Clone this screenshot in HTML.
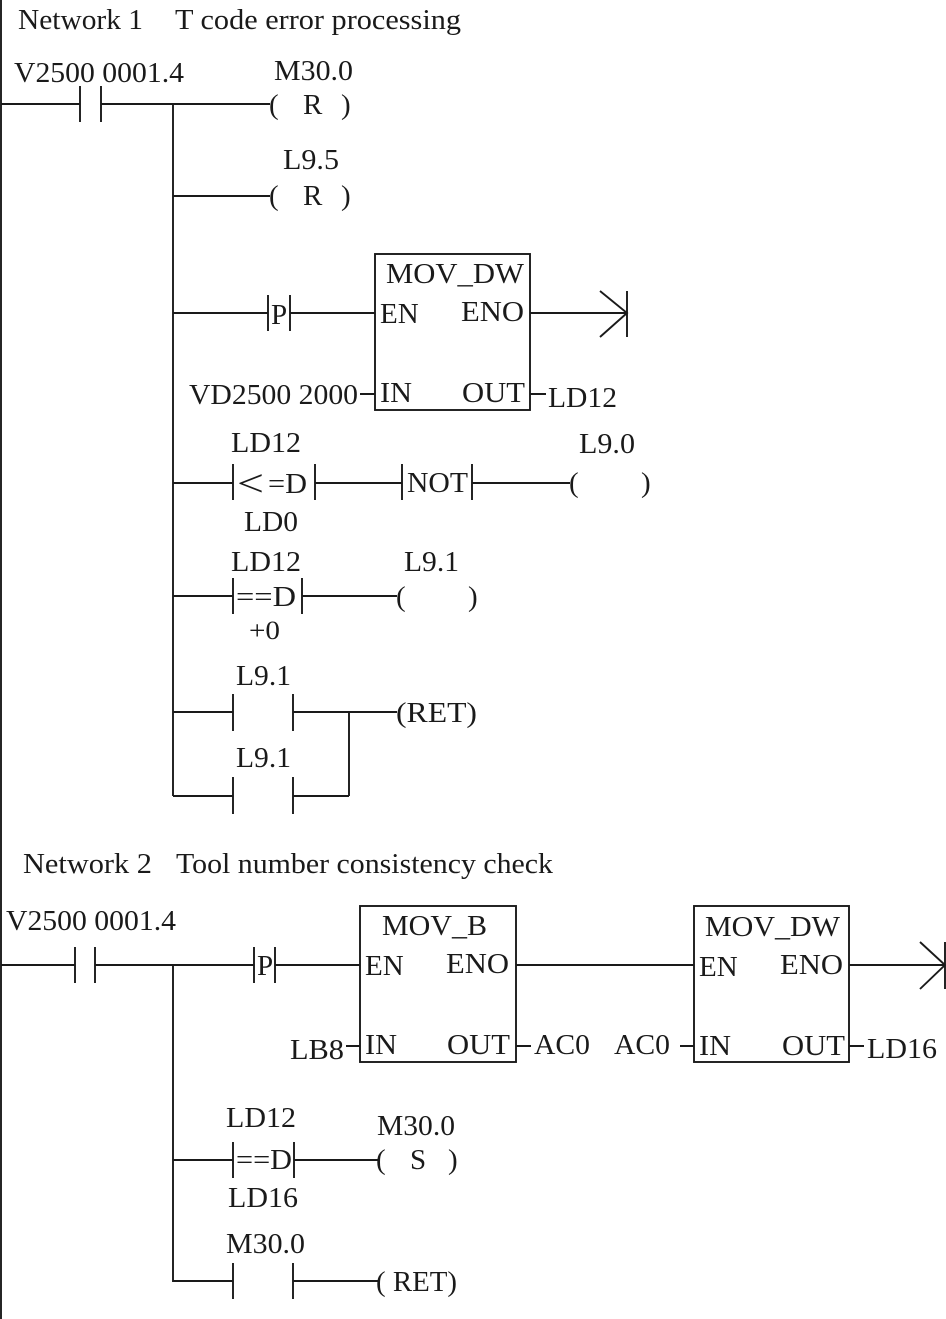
<!DOCTYPE html>
<html><head><meta charset="utf-8">
<style>
html,body{margin:0;padding:0;background:#fff;width:946px;height:1319px;overflow:hidden}
svg{display:block}
text{font-family:"Liberation Serif",serif;font-size:29px;fill:#1a1a1a}
path,line,rect{stroke:#1a1a1a;stroke-width:1.9;fill:none}
</style></head><body>
<svg width="946" height="1319" viewBox="0 0 946 1319" xmlns="http://www.w3.org/2000/svg">
<path d="M1 0V1319"/>
<text x="18" y="29" textLength="125" lengthAdjust="spacingAndGlyphs">Network 1</text><text x="175" y="29" textLength="286" lengthAdjust="spacingAndGlyphs">T code error processing</text>
<text x="14" y="82" textLength="170" lengthAdjust="spacingAndGlyphs">V2500 0001.4</text>
<path d="M1 104H80M80 86V122M101 86V122M101 104H270"/>
<text x="274" y="80" textLength="79" lengthAdjust="spacingAndGlyphs">M30.0</text><text x="269" y="114">(</text><text x="303" y="114">R</text><text x="341" y="114">)</text>
<path d="M173 104V796"/>
<text x="283" y="169" textLength="56" lengthAdjust="spacingAndGlyphs">L9.5</text>
<path d="M173 196H270"/><text x="269" y="205">(</text><text x="303" y="205">R</text><text x="341" y="205">)</text>
<path d="M173 313H268M268 295V331M290 295V331M290 313H375"/><text x="271" y="324">P</text>
<rect x="375" y="254" width="155" height="156"/>
<text x="386" y="283" textLength="138" lengthAdjust="spacingAndGlyphs">MOV_DW</text><text x="380" y="323">EN</text><text x="461" y="321" textLength="63" lengthAdjust="spacingAndGlyphs">ENO</text><text x="380" y="402" textLength="32" lengthAdjust="spacingAndGlyphs">IN</text><text x="462" y="402" textLength="63" lengthAdjust="spacingAndGlyphs">OUT</text>
<path d="M530 313H627M600 291L627 313L600 337M627 291V337"/>
<text x="189" y="404" textLength="169" lengthAdjust="spacingAndGlyphs">VD2500 2000</text><path d="M360 394H375M530 394H546"/><text x="548" y="407" textLength="69" lengthAdjust="spacingAndGlyphs">LD12</text>
<text x="231" y="452" textLength="70" lengthAdjust="spacingAndGlyphs">LD12</text><path d="M173 483H233M233 464V500"/><text x="237" y="496" textLength="27" lengthAdjust="spacingAndGlyphs" style="font-size:38px">&lt;</text><text x="268" y="493" textLength="39" lengthAdjust="spacingAndGlyphs">=D</text>
<path d="M315 464V500M315 483H402M402 464V500"/><text x="407" y="492" textLength="61" lengthAdjust="spacingAndGlyphs">NOT</text><path d="M472 464V500M472 483H570"/>
<text x="244" y="531" textLength="54" lengthAdjust="spacingAndGlyphs">LD0</text><text x="579" y="453" textLength="56" lengthAdjust="spacingAndGlyphs">L9.0</text><text x="569" y="492">(</text><text x="641" y="492">)</text>
<text x="231" y="571" textLength="70" lengthAdjust="spacingAndGlyphs">LD12</text><path d="M173 596H233M233 578V614"/><text x="236" y="606" textLength="60" lengthAdjust="spacingAndGlyphs">==D</text><path d="M302 578V614M302 596H397"/>
<text x="249" y="639" textLength="31" lengthAdjust="spacingAndGlyphs" style="font-size:26px">+0</text><text x="404" y="571" textLength="55" lengthAdjust="spacingAndGlyphs">L9.1</text><text x="396" y="606">(</text><text x="468" y="606">)</text>
<text x="236" y="685" textLength="55" lengthAdjust="spacingAndGlyphs">L9.1</text><path d="M173 712H233M233 694V731M293 694V731M293 712H397M349 712V796"/><text x="396" y="722" textLength="81" lengthAdjust="spacingAndGlyphs">(RET)</text>
<text x="236" y="767" textLength="55" lengthAdjust="spacingAndGlyphs">L9.1</text><path d="M173 796H233M233 777V814M293 777V814M293 796H349"/>
<text x="23" y="873" textLength="129" lengthAdjust="spacingAndGlyphs">Network 2</text><text x="176" y="873" textLength="377" lengthAdjust="spacingAndGlyphs">Tool number consistency check</text>
<text x="6" y="930" textLength="170" lengthAdjust="spacingAndGlyphs">V2500 0001.4</text>
<path d="M1 965H75M75 947V983M95 947V983M95 965H254M254 947V983M275 947V983M275 965H360"/><text x="257" y="975">P</text>
<path d="M173 965V1281H233"/>
<rect x="360" y="906" width="156" height="156"/>
<text x="382" y="935" textLength="105" lengthAdjust="spacingAndGlyphs">MOV_B</text><text x="365" y="975">EN</text><text x="446" y="973" textLength="63" lengthAdjust="spacingAndGlyphs">ENO</text><text x="365" y="1054" textLength="32" lengthAdjust="spacingAndGlyphs">IN</text><text x="447" y="1054" textLength="63" lengthAdjust="spacingAndGlyphs">OUT</text>
<path d="M516 965H694"/>
<rect x="694" y="906" width="155" height="156"/>
<text x="705" y="936" textLength="135" lengthAdjust="spacingAndGlyphs">MOV_DW</text><text x="699" y="976">EN</text><text x="780" y="974" textLength="63" lengthAdjust="spacingAndGlyphs">ENO</text><text x="699" y="1055" textLength="32" lengthAdjust="spacingAndGlyphs">IN</text><text x="782" y="1055" textLength="63" lengthAdjust="spacingAndGlyphs">OUT</text>
<path d="M849 965H945M920 942L945 965L920 989M945 942V989"/>
<text x="290" y="1059" textLength="54" lengthAdjust="spacingAndGlyphs">LB8</text><path d="M346 1046H360M516 1046H531"/><text x="534" y="1054" textLength="56" lengthAdjust="spacingAndGlyphs">AC0</text>
<text x="614" y="1054" textLength="56" lengthAdjust="spacingAndGlyphs">AC0</text><path d="M680 1046H694M849 1046H864"/><text x="867" y="1058" textLength="70" lengthAdjust="spacingAndGlyphs">LD16</text>
<text x="226" y="1127" textLength="70" lengthAdjust="spacingAndGlyphs">LD12</text><path d="M173 1160H233M233 1142V1178"/><text x="236" y="1169" textLength="56" lengthAdjust="spacingAndGlyphs">==D</text><path d="M294 1142V1178M294 1160H378"/>
<text x="228" y="1207" textLength="70" lengthAdjust="spacingAndGlyphs">LD16</text><text x="377" y="1135" textLength="78" lengthAdjust="spacingAndGlyphs">M30.0</text><text x="376" y="1169">(</text><text x="410" y="1169">S</text><text x="448" y="1169">)</text>
<text x="226" y="1253" textLength="79" lengthAdjust="spacingAndGlyphs">M30.0</text><path d="M233 1263V1299M293 1263V1299M293 1281H378"/><text x="376" y="1291" textLength="81" lengthAdjust="spacingAndGlyphs">( RET)</text>
</svg>
</body></html>
